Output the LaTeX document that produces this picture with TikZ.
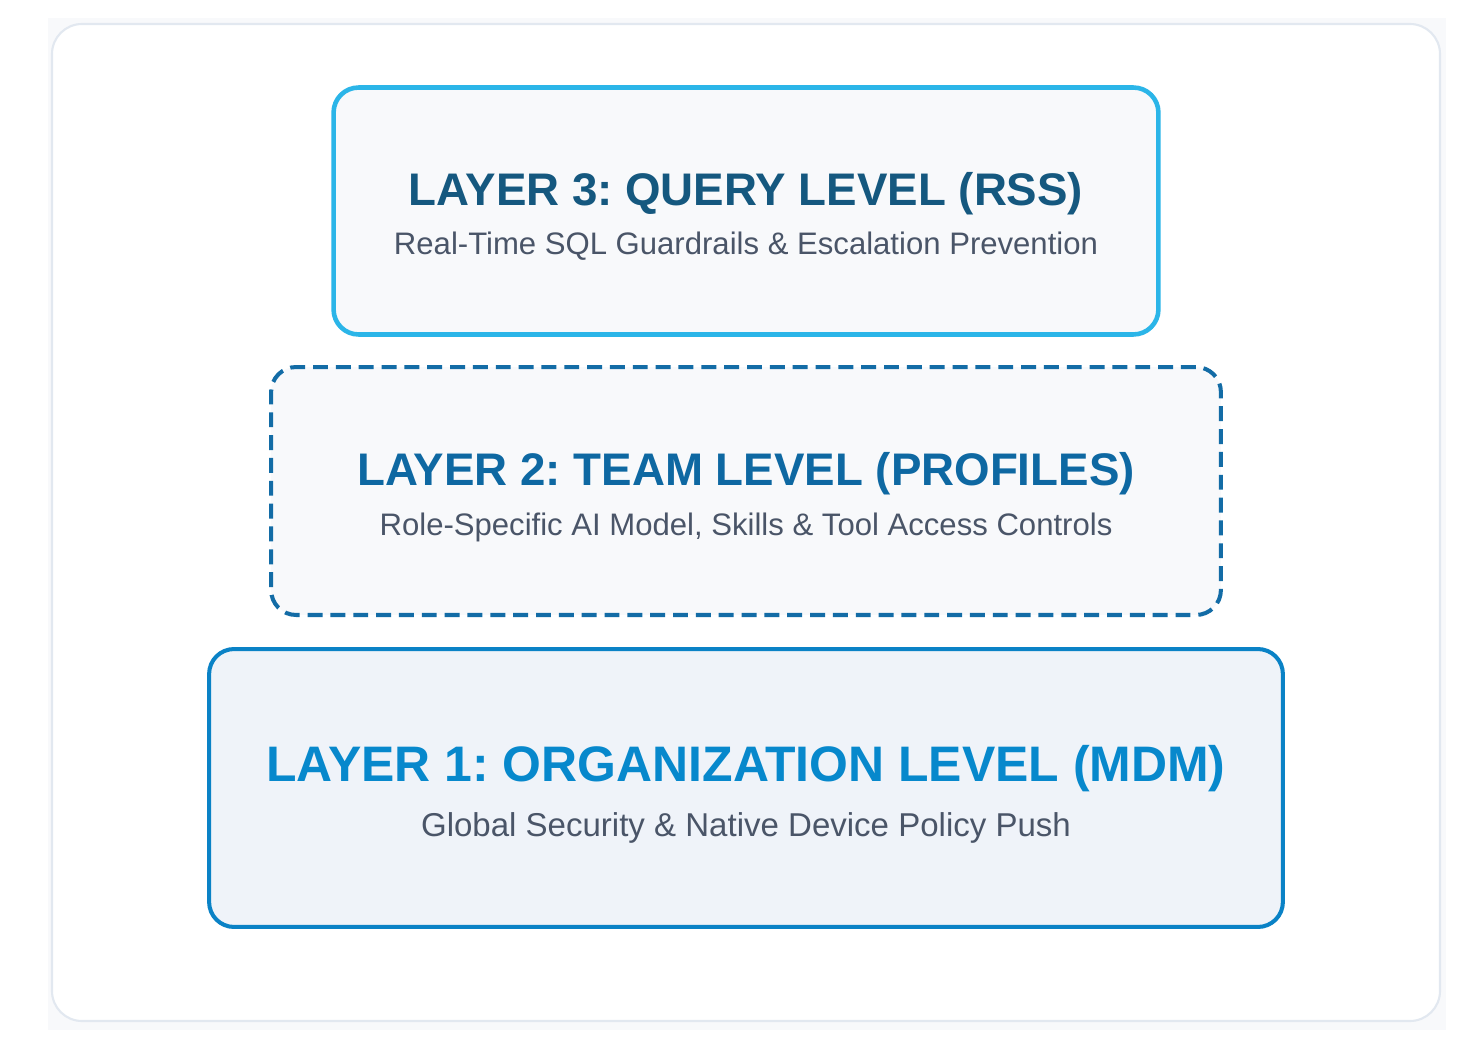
\documentclass[tikz,border=0pt]{standalone}
\usepackage{fontspec}
\setmainfont{Liberation Sans}
\usepackage{xcolor}
\usetikzlibrary{positioning}

\definecolor{pagebg}{HTML}{F8F9FB}
\definecolor{frameline}{HTML}{E2E8F0}
\definecolor{boxgray}{HTML}{F8F9FB}
\definecolor{boxblue}{HTML}{EFF3F9}
\definecolor{cyanline}{HTML}{2BB5E8}
\definecolor{teamline}{HTML}{136CA6}
\definecolor{orgline}{HTML}{0A82C6}
\definecolor{querytext}{HTML}{15587F}
\definecolor{teamtext}{HTML}{0E68A2}
\definecolor{orgtext}{HTML}{0788CC}
\definecolor{subgray}{HTML}{4A5568}

\begin{document}
\frenchspacing
\begin{tikzpicture}[x=0.02cm,y=-0.02cm,
  layerbox/.style={rectangle, rounded corners=0.5cm, line width=2.4pt},
  layertitle/.style={anchor=base, font=\bfseries\fontsize{26}{30}\selectfont},
  layersub/.style={anchor=base, text=subgray, font=\fontsize{17.7}{20}\selectfont}]
\useasboundingbox (0,0) rectangle (1472,1048);

% Frame
\fill[pagebg] (48,18) rectangle (1446,1030);
\draw[frameline, fill=white, line width=1.2pt, rounded corners=0.6cm] (52,24) rectangle (1440,1021);

% Layer 3
\node[layerbox, draw=cyanline, fill=boxgray, line width=2.6pt, minimum width=16.5cm, minimum height=4.94cm] (query) at (746,211) {};
\node[layertitle, text=querytext] (querytitle) at (746,205) {LAYER 3: QUERY LEVEL (RSS)};
\node[layersub] (querysub) at (746,254) {Real-Time SQL Guardrails \& Escalation Prevention};

% Layer 2
\node[layerbox, draw=teamline, dash pattern=on 8.5pt off 4.5pt, line width=2.3pt, fill=boxgray, minimum width=19cm, minimum height=4.96cm] (team) at (746,491) {};
\node[layertitle, text=teamtext] (teamtitle) at (746,485) {LAYER 2: TEAM LEVEL (PROFILES)};
\node[layersub] (teamsub) at (746,535) {Role-Specific AI Model, Skills \& Tool Access Controls};

% Layer 1
\node[layerbox, draw=orgline, fill=boxblue, line width=2.3pt, minimum width=21.48cm, minimum height=5.56cm] (org) at (746,788) {};
\node[layertitle, text=orgtext, font=\bfseries\fontsize{28.4}{32}\selectfont] (orgtitle) at (746,781) {LAYER 1: ORGANIZATION LEVEL (MDM)};
\node[layersub, font=\fontsize{18.8}{22}\selectfont] (orgsub) at (746,836) {Global Security \& Native Device Policy Push};
\end{tikzpicture}
\end{document}
